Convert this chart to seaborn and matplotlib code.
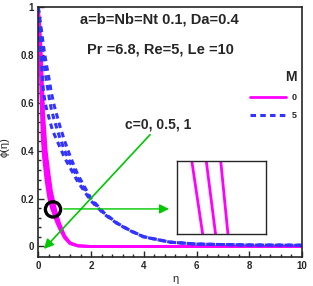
import seaborn as sns
import matplotlib.pyplot as plt
from matplotlib.lines import Line2D

# concentration profiles phi(eta)
eta_m = [0, 0.05, 0.1, 0.15, 0.2, 0.3, 0.4, 0.5, 0.6, 0.7, 0.8, 1.0, 1.2, 1.5, 2, 10]
phi_m0_c0 = [1, 0.86, 0.62, 0.45, 0.37, 0.27, 0.20, 0.16, 0.13, 0.10, 0.075, 0.035, 0.012, 0.002, 0, 0]
phi_m0_c05 = [1, 0.90, 0.76, 0.58, 0.46, 0.33, 0.25, 0.19, 0.15, 0.115, 0.085, 0.040, 0.014, 0.003, 0, 0]
phi_m0_c1 = [1, 0.93, 0.84, 0.70, 0.56, 0.40, 0.31, 0.23, 0.18, 0.135, 0.10, 0.045, 0.016, 0.003, 0, 0]

eta_b = [0, 0.1, 0.2, 0.3, 0.4, 0.5, 0.6, 0.8, 1.0, 1.25, 1.5, 2, 2.5, 3, 3.5, 4, 5, 6, 8, 10]
phi_m5_c0 = [1, 0.80, 0.64, 0.58, 0.54, 0.50, 0.47, 0.42, 0.37, 0.32, 0.27, 0.19, 0.135, 0.095, 0.065, 0.040, 0.018, 0.010, 0.006, 0.005]
phi_m5_c05 = [1, 0.88, 0.78, 0.70, 0.63, 0.57, 0.53, 0.46, 0.40, 0.34, 0.285, 0.195, 0.137, 0.096, 0.065, 0.040, 0.018, 0.010, 0.006, 0.005]
phi_m5_c1 = [1, 0.92, 0.835, 0.765, 0.705, 0.64, 0.59, 0.51, 0.44, 0.365, 0.30, 0.20, 0.14, 0.097, 0.066, 0.041, 0.018, 0.010, 0.006, 0.005]

M_labels = ['0', '5']

MAGENTA = '#ff00ff'
BLUE = '#3333ff'
GREEN = '#00c800'

sns.set_style("ticks")
plt.rcParams['font.family'] = ['Liberation Sans', 'DejaVu Sans']

fig = plt.figure(figsize=(3.13, 2.86), dpi=100)
ax = fig.add_axes([0.1224, 0.1014, 0.8425, 0.8731])

for phi in [phi_m0_c0, phi_m0_c05, phi_m0_c1]:
    sns.lineplot(x=eta_m, y=phi, ax=ax, color=MAGENTA, linewidth=2.0, sort=False)
for phi in [phi_m5_c0, phi_m5_c05, phi_m5_c1]:
    sns.lineplot(x=eta_b, y=phi, ax=ax, color=BLUE, linewidth=2.2, sort=False,
                 linestyle=(0, (1.8, 1.4)))

ax.set_xlim(0, 10)
ax.set_ylim(-0.044, 1.0)
ax.set_xticks([0, 2, 4, 6, 8, 10])
ax.set_yticks([0, 0.2, 0.4, 0.6, 0.8, 1])
ax.set_yticklabels(['0', '0.2', '0.4', '0.6', '0.8', '1'])
ax.set_xticks([i * 0.4 for i in range(26)], minor=True)
ax.set_yticks([i * 0.04 for i in range(26)], minor=True)
ax.tick_params(which='major', direction='in', length=4, width=1, labelsize=7, pad=3)
ax.tick_params(which='minor', direction='in', length=2.5, width=1)
for lab in ax.get_xticklabels() + ax.get_yticklabels():
    lab.set_fontweight('bold')
for s in ax.spines.values():
    s.set_linewidth(1.2)
    s.set_visible(True)

ax.set_xlabel('η', fontsize=8)
ax.set_ylabel('ϕ(η)', fontsize=8)
ax.xaxis.set_label_coords(0.52, -0.07)
ax.yaxis.set_label_coords(-0.11, 0.44)

# annotations
ax.text(4.58, 0.95, 'a=b=Nb=Nt 0.1, Da=0.4', ha='center', va='center', fontsize=10.5, fontweight='bold')
ax.text(4.63, 0.824, 'Pr =6.8, Re=5, Le =10', ha='center', va='center', fontsize=10.5, fontweight='bold')
ax.text(4.55, 0.51, 'c=0, 0.5, 1', ha='center', va='center', fontsize=10, fontweight='bold')

ax.annotate('', xy=(0.14, -0.019), xytext=(4.31, 0.476),
            arrowprops=dict(arrowstyle='-|>', color=GREEN, lw=1.2, mutation_scale=14))
ax.annotate('', xy=(5.06, 0.157), xytext=(0.86, 0.157),
            arrowprops=dict(arrowstyle='-|>', color=GREEN, lw=1.0, mutation_scale=14))
ax.scatter([0.557], [0.155], s=120, facecolors='none', edgecolors='black', linewidths=2.4, zorder=5)

# legend
handles = [Line2D([], [], color=MAGENTA, lw=2.0),
           Line2D([], [], color=BLUE, lw=2.2, linestyle=(0, (1.8, 1.4)))]
leg = ax.legend(handles, M_labels, title='M', frameon=False, loc='upper right',
                bbox_to_anchor=(1.01, 0.78), handlelength=4.0, fontsize=6.5,
                alignment='right', labelspacing=1.0, handletextpad=0.6)
leg.get_title().set_fontsize(10)
leg.get_title().set_fontweight('bold')
for t in leg.get_texts():
    t.set_fontweight('bold')

# inset zoom around circled region
ins = fig.add_axes([0.5655, 0.1818, 0.284, 0.255])
for phi in [phi_m0_c0, phi_m0_c05, phi_m0_c1]:
    sns.lineplot(x=eta_m, y=phi, ax=ins, color=MAGENTA, linewidth=2.0, sort=False)
ins.set_xlim(0.465, 0.875)
ins.set_ylim(0.135, 0.15)
ins.set_xticks([])
ins.set_yticks([])
for s in ins.spines.values():
    s.set_linewidth(1.0)
    s.set_visible(True)

fig.savefig('out.png', dpi=100)
